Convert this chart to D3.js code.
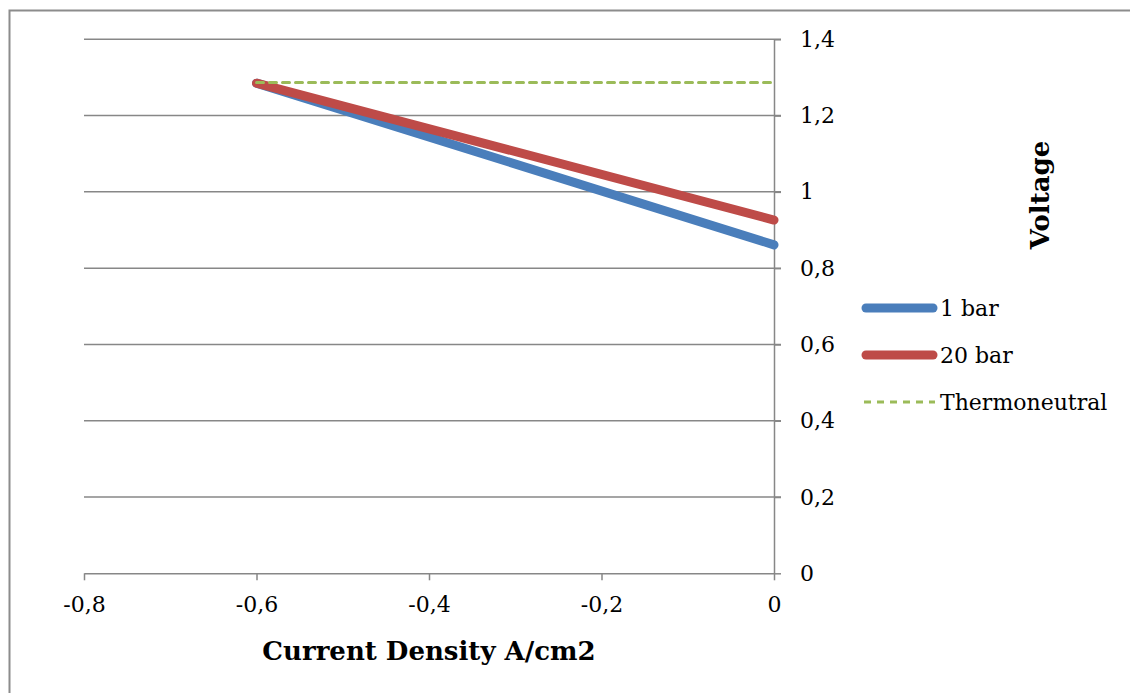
<!DOCTYPE html>
<html>
<head>
<meta charset="utf-8">
<script src="https://cdn.jsdelivr.net/npm/d3@7"></script>
<style>
  body { margin: 0; background: #fff; }
  text { font-family: "DejaVu Serif", "Liberation Serif", serif; fill: #000; }
</style>
</head>
<body>
<svg width="1130" height="693"></svg>
<script>
(function() {
  'use strict';

// data
var seriesNames = ["1 bar", "20 bar", "Thermoneutral"];
var currentDensity = [-0.6, 0];
var voltage1bar = [1.285, 0.861];
var voltage20bar = [1.285, 0.926];
var thermoneutral = [1.287, 1.287];
var xTicks = [-0.8, -0.6, -0.4, -0.2, 0];
var yTicks = [0, 0.2, 0.4, 0.6, 0.8, 1, 1.2, 1.4];

var colors = ["#4a7ebb", "#be4b48", "#9bbb59"];

var svg = d3.select("svg");

// outer chart border (right and bottom are cut off in the picture)
svg.append("rect")
   .attr("x", 9.5).attr("y", 10.5)
   .attr("width", 1200).attr("height", 800)
   .attr("fill", "none").attr("stroke", "#8c8c8c").attr("stroke-width", 2);

var x = d3.scaleLinear().domain([-0.8, 0]).range([84, 774]);
var y = d3.scaleLinear().domain([0, 1.4]).range([573.3, 39.3]);

// comma decimals, plain hyphen for minus
var fmt = function(d) { return String(+d.toFixed(1)).replace(".", ","); };

// horizontal gridlines
svg.append("g").selectAll("line")
   .data(yTicks.filter(function(d) { return d > 0; }))
   .enter().append("line")
   .attr("x1", x(-0.8)).attr("x2", x(0) + 7)
   .attr("y1", function(d) { return y(d); }).attr("y2", function(d) { return y(d); })
   .attr("stroke", "#878787").attr("stroke-width", 1.5);

// x axis
var xAxis = svg.append("g")
   .attr("transform", "translate(0," + y(0) + ")")
   .call(d3.axisBottom(x).tickValues(xTicks).tickSize(7).tickSizeOuter(0).tickPadding(16).tickFormat(fmt));

// y axis on the right, at x = 0
var yAxis = svg.append("g")
   .attr("transform", "translate(" + x(0) + ",0)")
   .call(d3.axisRight(y).tickValues(yTicks).tickSize(7).tickSizeOuter(0).tickPadding(19).tickFormat(fmt));

[xAxis, yAxis].forEach(function(g) {
  g.attr("font-family", null).attr("font-size", null);
  g.select(".domain").attr("stroke", "#878787").attr("stroke-width", 1.5);
  g.selectAll(".tick line").attr("stroke", "#878787").attr("stroke-width", 1.5);
  g.selectAll(".tick text")
   .style("font-size", "22px").attr("fill", "#000");
});

// series
var line = d3.line()
   .x(function(d) { return x(d[0]); })
   .y(function(d) { return y(d[1]); });

var series = [voltage1bar, voltage20bar, thermoneutral].map(function(vals) {
  return currentDensity.map(function(c, i) { return [c, vals[i]]; });
});

svg.selectAll(".series")
   .data(series)
   .enter().append("path")
   .attr("class", "series")
   .attr("d", line)
   .attr("fill", "none")
   .attr("stroke", function(d, i) { return colors[i]; })
   .attr("stroke-width", function(d, i) { return i < 2 ? 9 : 3; })
   .attr("stroke-linecap", "round")
   .attr("stroke-dasharray", function(d, i) { return i < 2 ? null : "7,6"; });

// legend
var legend = svg.append("g").selectAll("g")
   .data(seriesNames)
   .enter().append("g")
   .attr("transform", function(d, i) { return "translate(0," + (308 + i * 47) + ")"; });

legend.append("line")
   .attr("x1", function(d, i) { return i < 2 ? 866 : 864; })
   .attr("x2", function(d, i) { return i < 2 ? 933 : 935; })
   .attr("stroke", function(d, i) { return colors[i]; })
   .attr("stroke-width", function(d, i) { return i < 2 ? 9 : 3; })
   .attr("stroke-linecap", function(d, i) { return i < 2 ? "round" : "butt"; })
   .attr("stroke-dasharray", function(d, i) { return i < 2 ? null : "7,6"; });

legend.append("text")
   .attr("x", 940).attr("y", 8)
   .style("font-size", "22px")
   .text(function(d) { return d; });

// axis titles
svg.append("text")
   .attr("x", 429).attr("y", 660)
   .attr("text-anchor", "middle")
   .style("font-size", "26px").style("font-weight", "bold")
   .text("Current Density A/cm2");

svg.append("text")
   .attr("transform", "translate(1049,195) rotate(-90)")
   .attr("text-anchor", "middle")
   .style("font-size", "26px").style("font-weight", "bold")
   .text("Voltage");

})();
</script>
</body>
</html>
